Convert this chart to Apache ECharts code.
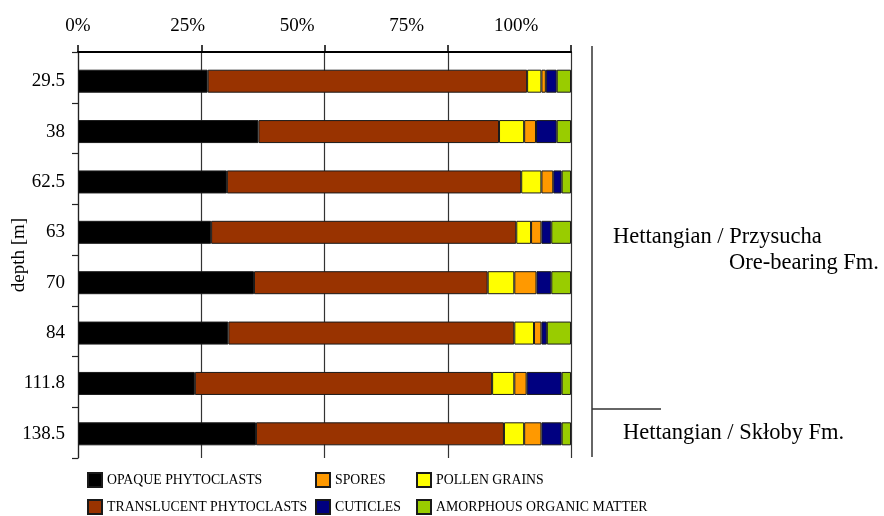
<!DOCTYPE html>
<html>
<head>
<meta charset="utf-8">
<script src="https://cdn.jsdelivr.net/npm/echarts@6/dist/echarts.min.js"></script>
<style>
  html, body { margin: 0; padding: 0; background: #fff; }
  #chart { width: 884px; height: 516px; }
</style>
</head>
<body>
<div id="chart"></div>
<script>
// Sample depths (m) and palynofacies composition (%) per sample
const depths = ['29.5', '38', '62.5', '63', '70', '84', '111.8', '138.5'];
const opaque      = [26.3, 36.6, 30.2, 27.0, 35.7, 30.5, 23.7, 36.1];
const translucent = [64.8, 48.8, 59.7, 61.9, 47.4, 58.0, 60.3, 50.3];
const pollen      = [2.9, 5.1, 4.1, 3.0, 5.4, 4.0, 4.5, 4.1];
const spores      = [0.9, 2.4, 2.4, 2.1, 4.5, 1.5, 2.5, 3.5];
const cuticles    = [2.2, 4.2, 1.7, 2.0, 3.0, 1.1, 7.1, 4.1];
const amorphous   = [2.9, 2.9, 1.9, 4.0, 4.0, 4.9, 1.9, 1.9];

// Percentage tick labels along the top
const tickValues = [0, 25, 50, 75, 100];
const tickLabels = ['0%', '25%', '50%', '75%', '100%'];

const SERIF = '"Liberation Serif", "Times New Roman", serif';

const seriesDefs = [
  { name: 'OPAQUE PHYTOCLASTS', data: opaque, color: '#000000' },
  { name: 'TRANSLUCENT PHYTOCLASTS', data: translucent, color: '#993300' },
  { name: 'POLLEN GRAINS', data: pollen, color: '#FFFF00' },
  { name: 'SPORES', data: spores, color: '#FF9900' },
  { name: 'CUTICLES', data: cuticles, color: '#000080' },
  { name: 'AMORPHOUS ORGANIC MATTER', data: amorphous, color: '#99CC00' }
];

const chart = echarts.init(document.getElementById('chart'), null, { renderer: 'canvas' });

// one legend entry per slot of the 3 x 2 key below the plot
function legendItem(name, left, top) {
  return {
    data: [name],
    left: left,
    top: top,
    orient: 'horizontal',
    padding: 0,
    icon: 'rect',
    itemWidth: 14,
    itemHeight: 14,
    selectedMode: false,
    textStyle: { fontFamily: SERIF, fontSize: 13.8, color: '#000' }
  };
}

const hidden = { axisLine: { show: false }, axisTick: { show: false }, splitLine: { show: false } };

chart.setOption({
  animation: false,
  backgroundColor: '#fff',
  grid: [
    // frame: top scale, gridlines, left axis with ticks
    { left: 78, right: 313, top: 52, bottom: 58, outerBoundsMode: 'none' },
    // bar area
    { left: 78, right: 313, top: 56, bottom: 57, outerBoundsMode: 'none' }
  ],
  xAxis: [
    {
      gridIndex: 0,
      type: 'value',
      position: 'top',
      min: 0,
      max: 100,
      interval: 25,
      axisLine: { show: true, lineStyle: { color: '#000', width: 2 } },
      axisTick: { show: true, inside: false, length: 7, lineStyle: { color: '#000', width: 1.5 } },
      axisLabel: { show: false },
      splitLine: { show: true, lineStyle: { color: '#333', width: 1.2 } }
    },
    {
      // label scale for the percentage annotations
      gridIndex: 0,
      type: 'value',
      position: 'top',
      min: 0,
      max: 112.5,
      interval: 25,
      axisLine: { show: false },
      axisTick: { show: false },
      splitLine: { show: false },
      axisLabel: {
        show: true,
        margin: 16,
        fontFamily: SERIF,
        fontSize: 19,
        color: '#000',
        showMaxLabel: false,
        formatter: function (v) {
          const i = tickValues.indexOf(v);
          return i >= 0 ? tickLabels[i] : '';
        }
      }
    },
    Object.assign({ gridIndex: 1, type: 'value', min: 0, max: 100, axisLabel: { show: false } }, hidden)
  ],
  yAxis: [
    {
      gridIndex: 0,
      type: 'category',
      data: depths,
      inverse: true,
      name: 'depth [m]',
      nameLocation: 'middle',
      nameRotate: 90,
      nameGap: 49,
      nameMoveOverlap: false,
      nameTextStyle: { fontFamily: SERIF, fontSize: 19, color: '#000' },
      axisLine: { show: true, lineStyle: { color: '#222', width: 1.2 } },
      axisTick: { show: true, length: 6, lineStyle: { color: '#222', width: 1.2 } },
      axisLabel: { show: false },
      splitLine: { show: false }
    },
    Object.assign({
      gridIndex: 1,
      type: 'category',
      data: depths,
      inverse: true,
      axisLabel: { margin: 13, fontFamily: SERIF, fontSize: 19, color: '#000' }
    }, hidden)
  ],
  legend: [
    legendItem('OPAQUE PHYTOCLASTS', 87, 472),
    legendItem('TRANSLUCENT PHYTOCLASTS', 87, 499),
    legendItem('SPORES', 315, 472),
    legendItem('CUTICLES', 315, 499),
    legendItem('POLLEN GRAINS', 416, 472),
    legendItem('AMORPHOUS ORGANIC MATTER', 416, 499)
  ],
  series: seriesDefs.map(function (s) {
    return {
      name: s.name,
      type: 'bar',
      stack: 'total',
      xAxisIndex: 2,
      yAxisIndex: 1,
      barWidth: 23,
      data: s.data,
      itemStyle: { color: s.color, borderColor: '#1a1a1a', borderWidth: 1 },
      emphasis: { disabled: true }
    };
  }),
  graphic: [
    // stratigraphic bracket
    { type: 'line', shape: { x1: 592, y1: 46, x2: 592, y2: 457 }, style: { stroke: '#333', lineWidth: 1.5 } },
    { type: 'line', shape: { x1: 592, y1: 409, x2: 661, y2: 409 }, style: { stroke: '#333', lineWidth: 1.5 } },
    { type: 'text', left: 613, top: 226, style: { text: 'Hettangian / Przysucha', font: '22.5px ' + SERIF, fill: '#000' } },
    { type: 'text', left: 729, top: 252, style: { text: 'Ore-bearing Fm.', font: '22.5px ' + SERIF, fill: '#000' } },
    { type: 'text', left: 623, top: 422, style: { text: 'Hettangian / Skłoby Fm.', font: '22.5px ' + SERIF, fill: '#000' } }
  ]
});
</script>
</body>
</html>
